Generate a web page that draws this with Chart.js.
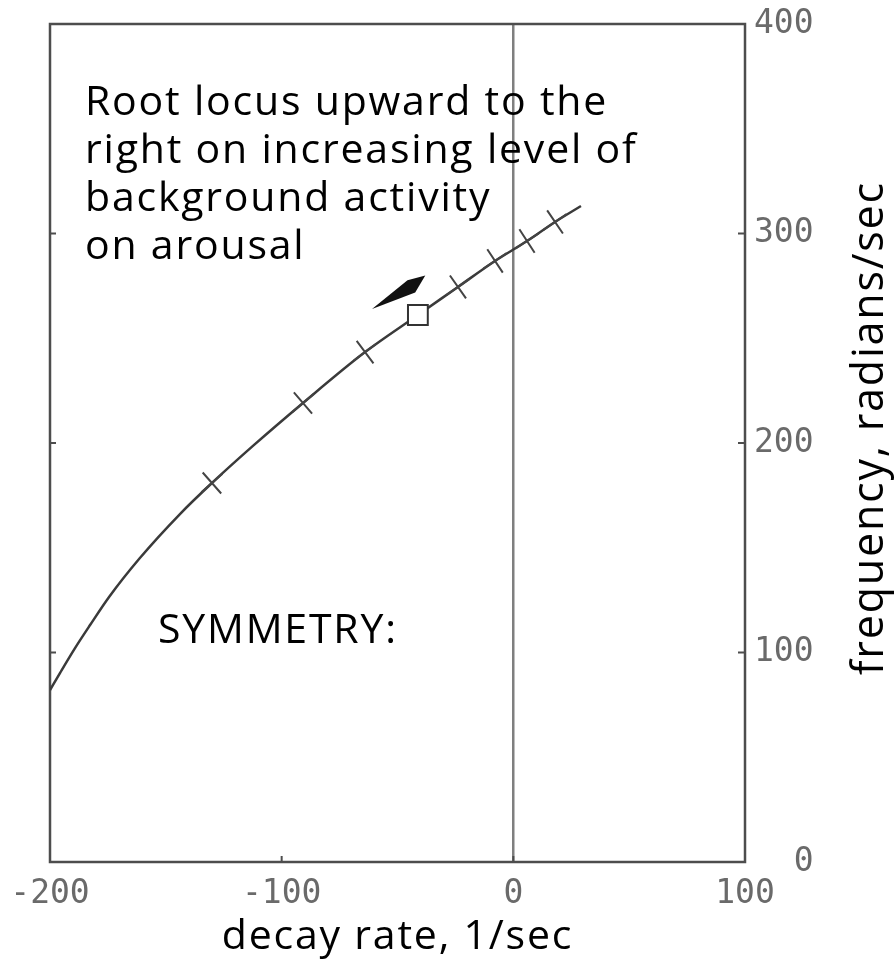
<!DOCTYPE html>
<html>
<head>
<meta charset="utf-8">
<title>Root locus</title>
<script src="https://cdn.jsdelivr.net/npm/chart.js@4.4.1/dist/chart.umd.min.js"></script>
<style>
  html, body { margin: 0; padding: 0; background: #fff; }
  #wrap { width: 894px; height: 967px; }
</style>
</head>
<body>
<div id="wrap"><canvas id="locusChart" width="894" height="967"></canvas></div>
<script>
// Root locus: decay rate (1/sec) against frequency (rad/sec)
const locusDecay = [-200, -195.7, -189.2, -182.7, -174.5, -161.2, -143.9, -130.1, -112.4, -90.8, -64.0, -41.2, -23.9, -7.9, 5.9, 18.0, 29.2];
const locusFreq  = [82.1, 90.2, 102.1, 113.1, 126.5, 145.1, 166.1, 180.9, 198.6, 219.1, 243.4, 261.1, 274.5, 286.9, 296.4, 305.5, 313.1];

// cross ticks along the locus
const markDecay = [-130.1, -90.8, -64.0, -23.9, -7.9, 5.9, 18.0];
const markFreq  = [180.9, 219.1, 243.4, 274.5, 286.9, 296.4, 305.5];

// resting point (open square)
const restDecay = [-41.2];
const restFreq  = [261.1];

// arrow, tail then head
const arrowDecay = [-38, -61];
const arrowFreq  = [280, 264];

const xTicks = [-200, -100, 0, 100];
const yTicks = [0, 100, 200, 300, 400];

const noteLines = ['Root locus upward to the', 'right on increasing level of', 'background activity', 'on arousal'];
const symmetryText = 'SYMMETRY:';
const xTitle = 'decay rate, 1/sec';
const yTitle = 'frequency, radians/sec';

const toPoints = (xs, ys) => xs.map((v, i) => ({ x: v, y: ys[i] }));

const TEXT_FONT = '"Open Sans", "Noto Sans", sans-serif';
const TICK_FONT = '"DejaVu Sans Mono", "Liberation Mono", monospace';

// angle of the locus at each cross, so one arm lies along the curve
function crossRotation(c) {
    const chart = c.chart;
    const sx = chart.scales.x, sy = chart.scales.y;
    const d = c.dataset.data;
    const i = c.dataIndex;
    if (!d[i]) return 0;
    const a = d[Math.max(i - 1, 0)], b = d[Math.min(i + 1, d.length - 1)];
    const dx = sx.getPixelForValue(b.x) - sx.getPixelForValue(a.x);
    const dy = sy.getPixelForValue(b.y) - sy.getPixelForValue(a.y);
    return Math.atan2(dy, dx) * 180 / Math.PI;
}

const framePlugin = {
    id: 'frame',
    beforeDatasetsDraw(chart) {
        const { ctx, chartArea: a, scales: { x, y } } = chart;
        ctx.save();
        ctx.strokeStyle = '#4d4d4d';
        ctx.lineWidth = 2.5;
        ctx.strokeRect(a.left, a.top, a.right - a.left, a.bottom - a.top);

        // small inward ticks
        ctx.lineWidth = 2;
        y.ticks.forEach(t => {
            const py = y.getPixelForValue(t.value);
            ctx.beginPath();
            ctx.moveTo(a.left, py); ctx.lineTo(a.left + 6, py);
            ctx.moveTo(a.right, py); ctx.lineTo(a.right - 7, py);
            ctx.stroke();
        });
        x.ticks.forEach(t => {
            const px = x.getPixelForValue(t.value);
            ctx.beginPath();
            ctx.moveTo(px, a.bottom); ctx.lineTo(px, a.bottom - 6);
            ctx.stroke();
        });
        ctx.restore();
    },
    afterDatasetsDraw(chart) {
        const { ctx, chartArea: a, scales: { x, y } } = chart;
        ctx.save();

        // arrow
        const tx = x.getPixelForValue(arrowDecay[0]), ty = y.getPixelForValue(arrowFreq[0]);
        const hx = x.getPixelForValue(arrowDecay[1]), hy = y.getPixelForValue(arrowFreq[1]);
        const len = Math.hypot(tx - hx, ty - hy);
        const ux = (tx - hx) / len, uy = (ty - hy) / len;
        const bx = hx + ux * len * 0.72, by = hy + uy * len * 0.72;
        const w = 9;
        ctx.fillStyle = '#111';
        ctx.beginPath();
        ctx.moveTo(hx, hy);
        ctx.lineTo(bx - uy * w, by + ux * w);
        ctx.lineTo(tx, ty);
        ctx.lineTo(bx + uy * w * 0.6, by - ux * w * 0.6);
        ctx.closePath();
        ctx.fill();

        // note text
        ctx.fillStyle = '#000';
        ctx.textAlign = 'left';
        ctx.textBaseline = 'alphabetic';
        ctx.font = '41px ' + TEXT_FONT;
        ctx.letterSpacing = '1.8px';
        noteLines.forEach((line, i) => ctx.fillText(line, a.left + 35, a.top + 91 + i * 48));
        ctx.fillText(symmetryText, a.left + 108, a.top + 619);

        // decay title under the axis
        ctx.textAlign = 'center';
        ctx.fillText(xTitle, (a.left + a.right) / 2, a.bottom + 87);

        // frequency title, reading upwards
        ctx.font = '43px ' + TEXT_FONT;
        ctx.translate(a.right + 138, (a.top + a.bottom) / 2 - 15);
        ctx.rotate(-Math.PI / 2);
        ctx.fillText(yTitle, 0, 0);
        ctx.restore();
    }
};

document.addEventListener('DOMContentLoaded', () => {
    const ctx = document.getElementById('locusChart').getContext('2d');
    new Chart(ctx, {
        type: 'scatter',
        data: {
            datasets: [
                {
                    label: 'locus',
                    data: toPoints(locusDecay, locusFreq),
                    showLine: true,
                    cubicInterpolationMode: 'monotone',
                    borderColor: '#3a3a3a',
                    borderWidth: 2.5,
                    pointRadius: 0,
                    order: 3
                },
                {
                    label: 'marks',
                    data: toPoints(markDecay, markFreq),
                    showLine: false,
                    pointStyle: 'cross',
                    pointRadius: 14,
                    borderColor: '#444',
                    borderWidth: 2,
                    rotation: crossRotation,
                    order: 2
                },
                {
                    label: 'rest',
                    data: toPoints(restDecay, restFreq),
                    showLine: false,
                    pointStyle: 'rect',
                    pointRadius: 14,
                    borderColor: '#333',
                    borderWidth: 2,
                    backgroundColor: '#fff',
                    order: 1
                }
            ]
        },
        options: {
            responsive: false,
            animation: false,
            layout: { padding: { left: 50, top: 24, right: 0, bottom: 0 } },
            plugins: {
                legend: { display: false },
                tooltip: { enabled: false }
            },
            scales: {
                x: {
                    type: 'linear',
                    min: -200,
                    max: 100,
                    afterBuildTicks: s => { s.ticks = xTicks.map(v => ({ value: v })); },
                    afterFit: s => { s.height = 105; s.paddingLeft = 0; s.paddingRight = 0; },
                    border: { display: false },
                    grid: {
                        drawTicks: false,
                        lineWidth: 2.5,
                        color: c => (c.tick && c.tick.value === 0) ? '#7f7f7f' : 'rgba(0,0,0,0)'
                    },
                    ticks: {
                        padding: 13,
                        color: '#6a6a6a',
                        font: { family: TICK_FONT, size: 33 },
                        maxRotation: 0
                    }
                },
                y: {
                    type: 'linear',
                    position: 'right',
                    min: 0,
                    max: 400,
                    afterBuildTicks: s => { s.ticks = yTicks.map(v => ({ value: v })); },
                    afterFit: s => { s.width = 149; s.paddingTop = 0; s.paddingBottom = 0; },
                    border: { display: false },
                    grid: { display: false, drawTicks: false },
                    ticks: {
                        padding: 9,
                        crossAlign: 'near',
                        color: '#6a6a6a',
                        font: { family: TICK_FONT, size: 33 },
                        // monospaced, so padding keeps the numbers right-aligned
                        callback: v => String(v).padStart(3, ' ')
                    }
                }
            }
        },
        plugins: [framePlugin]
    });
});
</script>
</body>
</html>
